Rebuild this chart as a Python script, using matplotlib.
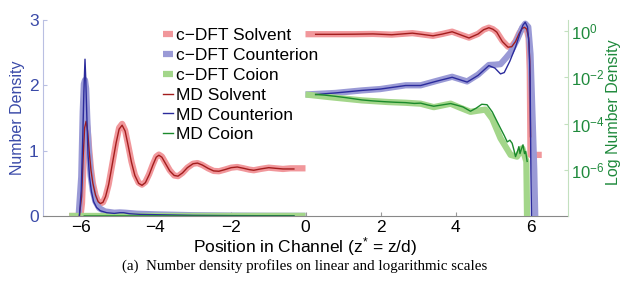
import matplotlib
matplotlib.use("Agg")
import matplotlib.pyplot as plt

plt.rcParams['font.family'] = ['Liberation Sans', 'DejaVu Sans']
plt.rcParams['mathtext.fontset'] = 'custom'
plt.rcParams['mathtext.rm'] = 'Liberation Sans'
plt.rcParams['mathtext.it'] = 'Liberation Sans:italic'
plt.rcParams['mathtext.default'] = 'regular'

# ---------------- data: left half (linear scale, z < 0) ----------------
z_dft_solv_L = [-6.3, -6.0, -5.96, -5.92, -5.88, -5.85, -5.81, -5.77, -5.72, -5.67, -5.6, -5.53, -5.47,
                -5.4, -5.33, -5.25, -5.15, -5.05, -4.97, -4.89, -4.81, -4.73, -4.64, -4.55, -4.45,
                -4.36, -4.27, -4.17, -4.07, -3.98, -3.91, -3.83, -3.73, -3.62, -3.5, -3.4, -3.28,
                -3.15, -3.0, -2.88, -2.75, -2.6, -2.45, -2.31, -2.15, -1.98, -1.82, -1.65, -1.5,
                -1.38, -1.2, -0.98, -0.8, -0.6, -0.4, -0.2, 0.0]
n_dft_solv_L = [0.0, 0.0, 0.2, 0.8, 1.3, 1.46, 1.33, 1.03, 0.72, 0.5, 0.32, 0.22, 0.19,
                0.21, 0.3, 0.48, 0.8, 1.13, 1.35, 1.41, 1.31, 1.09, 0.83, 0.63, 0.51,
                0.48, 0.52, 0.64, 0.79, 0.91, 0.94, 0.91, 0.81, 0.7, 0.62, 0.61, 0.66,
                0.74, 0.8, 0.81, 0.78, 0.73, 0.69, 0.685, 0.71, 0.74, 0.75, 0.73, 0.71,
                0.70, 0.72, 0.74, 0.73, 0.72, 0.73, 0.73, 0.73]
z_md_solv_L = [-6.03, -5.97, -5.93, -5.89, -5.85, -5.81, -5.77, -5.72, -5.67, -5.6, -5.53, -5.47,
               -5.4, -5.33, -5.25, -5.15, -5.05, -4.97, -4.89, -4.81, -4.73, -4.64, -4.55, -4.45,
               -4.36, -4.27, -4.17, -4.07, -3.98, -3.91, -3.83, -3.73, -3.62, -3.5, -3.4, -3.28,
               -3.15, -3.0, -2.88, -2.75, -2.6, -2.45, -2.31, -2.15, -1.98, -1.82, -1.65, -1.5,
               -1.38, -1.2, -0.98, -0.8, -0.6, -0.45, -0.31]
n_md_solv_L = [0.0, 0.3, 0.9, 1.35, 1.45, 1.3, 1.0, 0.7, 0.5, 0.32, 0.22, 0.19,
               0.21, 0.3, 0.48, 0.8, 1.12, 1.33, 1.39, 1.3, 1.08, 0.82, 0.62, 0.5,
               0.47, 0.51, 0.63, 0.78, 0.9, 0.93, 0.9, 0.8, 0.69, 0.62, 0.61, 0.66,
               0.74, 0.8, 0.81, 0.78, 0.73, 0.69, 0.685, 0.71, 0.74, 0.75, 0.73, 0.71,
               0.70, 0.72, 0.74, 0.73, 0.72, 0.72, 0.72]
z_dft_ci_L = [-6.05, -5.98, -5.94, -5.91, -5.88, -5.85, -5.82, -5.78, -5.73, -5.67, -5.6, -5.5,
              -5.35, -5.1, -4.95, -4.8, -4.5, -4.0, -3.0, -2.0, -1.0, 0.0]
n_dft_ci_L = [0.0, 0.6, 1.6, 2.02, 2.08, 1.95, 1.5, 1.0, 0.62, 0.38, 0.22, 0.12,
              0.07, 0.05, 0.055, 0.05, 0.035, 0.025, 0.012, 0.006, 0.003, 0.002]
z_md_ci_L = [-6.03, -5.98, -5.94, -5.91, -5.88, -5.86, -5.83, -5.8, -5.76, -5.71, -5.65, -5.57,
             -5.47, -5.3, -5.1, -4.95, -4.85, -4.7, -4.4, -4.0, -3.0, -2.0, -1.0, -0.31]
n_md_ci_L = [0.0, 0.4, 1.2, 1.9, 2.40, 2.1, 1.5, 0.95, 0.6, 0.38, 0.22, 0.13,
             0.08, 0.05, 0.04, 0.05, 0.05, 0.035, 0.025, 0.02, 0.01, 0.006, 0.004, 0.003]
z_dft_co_L = [-6.3, -5.0, -3.0, -1.0, 0.0]
n_dft_co_L = [0.0005, 0.001, 0.001, 0.0015, 0.0018]
z_md_co_L = [-5.9, -4.0, -2.0, -0.31]
n_md_co_L = [0.0005, 0.001, 0.0012, 0.0017]

# ---------------- data: right half (log scale, z > 0) ----------------
z_dft_solv_R = [0.0, 0.8, 1.3, 1.8, 2.3, 2.85, 3.1, 3.4, 3.65, 3.91, 4.15, 4.36, 4.6, 4.75,
                4.89, 5.0, 5.1, 5.25, 5.4, 5.5, 5.6, 5.7, 5.78, 5.84, 5.9, 5.95, 5.98, 6.0,
                6.3]
n_dft_solv_R = [0.73, 0.73, 0.73, 0.75, 0.70, 0.81, 0.72, 0.62, 0.75, 0.94, 0.68, 0.52, 0.75, 1.15,
                1.40, 1.2, 0.9, 0.38, 0.21, 0.22, 0.36, 0.8, 1.3, 1.46, 1.2, 0.5, 0.02, 4.4e-6,
                4.4e-6]
z_md_solv_R = [0.27, 0.8, 1.3, 1.8, 2.3, 2.85, 3.1, 3.4, 3.65, 3.91, 4.15, 4.36, 4.6, 4.75,
               4.89, 5.0, 5.1, 5.25, 5.4, 5.5, 5.6, 5.7, 5.78, 5.84, 5.9, 5.95, 5.98, 6.0]
n_md_solv_R = [0.72, 0.72, 0.73, 0.75, 0.69, 0.81, 0.72, 0.62, 0.74, 0.93, 0.67, 0.5, 0.74, 1.14,
               1.39, 1.19, 0.9, 0.35, 0.2, 0.21, 0.35, 0.8, 1.3, 1.45, 1.2, 0.5, 0.05, 2.7e-5]
z_dft_ci_R = [0.0, 0.8, 1.5, 2.0, 2.67, 3.07, 3.5, 3.91, 4.31, 4.6, 4.89, 5.05, 5.2, 5.35,
              5.47, 5.65, 5.78, 5.86, 5.94, 6.0, 6.06, 6.1, 6.13, 6.16]
n_dft_ci_R = [0.0018, 0.0021, 0.0027, 0.0031, 0.0045, 0.0045, 0.007, 0.0105, 0.0066, 0.013, 0.034, 0.035, 0.037, 0.07,
              0.12, 0.45, 1.4, 2.08, 1.5, 0.1, 1e-4, 1e-6, 5e-9, 5e-9]
z_md_ci_R = [0.27, 0.8, 1.5, 2.0, 2.67, 3.07, 3.5, 3.91, 4.31, 4.6, 4.89, 5.05, 5.2, 5.3,
             5.45, 5.6, 5.72, 5.8, 5.86, 5.92, 5.96, 5.99, 6.01, 6.03]
n_md_ci_R = [0.0018, 0.0021, 0.0027, 0.0031, 0.0044, 0.0044, 0.0068, 0.0100, 0.0062, 0.012, 0.032, 0.025, 0.014, 0.016,
             0.05, 0.2, 0.8, 1.8, 2.4, 1.5, 0.3, 0.01, 1e-6, 5e-9]
z_dft_co_R = [0.0, 0.62, 1.51, 2.2, 2.67, 3.07, 3.42, 3.87, 4.1, 4.4, 4.6, 4.8, 4.98, 5.2,
              5.47, 5.64, 5.78, 5.89, 5.91, 6.3]
n_dft_co_R = [0.0018, 0.0014, 1.0e-3, 8.5e-4, 7.9e-4, 7.2e-4, 5.1e-4, 7.2e-4, 5.0e-4, 3.2e-4, 3.6e-4, 4.0e-4, 1.6e-4, 2.3e-5,
              4.4e-6, 3.7e-6, 8.5e-6, 2.3e-6, 5e-9, 5e-9]
z_md_co_R = [0.27, 0.5, 0.8, 1.1, 1.5, 1.8, 2.1, 2.4, 2.67, 2.9, 3.07, 3.25, 3.42, 3.6,
             3.87, 4.05, 4.2, 4.4, 4.55, 4.7, 4.84, 4.98, 5.1, 5.2, 5.3, 5.38, 5.45, 5.51,
             5.56, 5.6, 5.65, 5.69, 5.72, 5.75, 5.8, 5.84, 5.87, 5.91]
n_md_co_R = [0.0018, 0.0017, 0.0015, 0.0013, 1.05e-3, 9.5e-4, 8.8e-4, 8.3e-4, 8.0e-4, 7.4e-4, 7.6e-4, 6.4e-4, 5.6e-4, 6.2e-4,
             7.3e-4, 6.1e-4, 5.2e-4, 3.4e-4, 4.6e-4, 6.8e-4, 6.5e-4, 3.2e-4, 1.3e-4, 6.2e-5, 3.0e-5, 1.6e-5, 1.9e-5, 1.4e-5,
             7e-6, 3.7e-6, 6e-6, 1.0e-5, 5e-6, 7.2e-6, 1.2e-5, 5e-6, 6.2e-6, 2.3e-6]

labels = ['c\u2212DFT Solvent', 'c\u2212DFT Counterion', 'c\u2212DFT Coion',
          'MD Solvent', 'MD Counterion', 'MD Coion']
x_ticks = [-6, -4, -2, 0, 2, 4, 6]
lin_ticks = [0, 1, 2, 3]
log_ticks = [1e-6, 1e-4, 1e-2, 1e0]
log_ticklabels = ['$10^{-6}$', '$10^{-4}$', '$10^{-2}$', '$10^{0}$']

# ---------------- styles ----------------
c_dft = ['#f1979b', '#9a9ad6', '#a3d68a']
c_md = ['#a31d1d', '#2b2b9c', '#1b8a2c']
blue_lab = '#3a4aa8'
green_lab = '#1f8a3c'
lw_thick = 4.5
lw_thin = 1.0

fig = plt.figure(figsize=(6.21, 2.81), dpi=100)
ax1 = fig.add_axes([43/621, 1-216/281, 525/621, 196/281])
ax2 = ax1.twinx()

left_dft = [(z_dft_solv_L, n_dft_solv_L), (z_dft_ci_L, n_dft_ci_L), (z_dft_co_L, n_dft_co_L)]
left_md = [(z_md_solv_L, n_md_solv_L), (z_md_ci_L, n_md_ci_L), (z_md_co_L, n_md_co_L)]
right_dft = [(z_dft_solv_R, n_dft_solv_R), (z_dft_ci_R, n_dft_ci_R), (z_dft_co_R, n_dft_co_R)]
right_md = [(z_md_solv_R, n_md_solv_R), (z_md_ci_R, n_md_ci_R), (z_md_co_R, n_md_co_R)]

handles = []
for (z, n), c in zip(left_dft, c_dft):
    h, = ax1.plot(z, n, color=c, lw=lw_thick, solid_capstyle='butt')
    handles.append(h)
for (z, n), c in zip(left_md, c_md):
    h, = ax1.plot(z, n, color=c, lw=lw_thin)
    handles.append(h)
for (z, n), c in zip(right_dft, c_dft):
    ax2.plot(z, n, color=c, lw=lw_thick, solid_capstyle='butt')
for (z, n), c in zip(right_md, c_md):
    ax2.plot(z, n, color=c, lw=lw_thin)

ax1.set_xlim(-7, 7)
ax1.set_ylim(0, 3)
ax2.set_yscale('log')
ax2.set_ylim(1e-8, 3)
ax1.set_xticks(x_ticks)
ax1.set_yticks(lin_ticks)
ax2.set_yticks(log_ticks)
ax2.set_yticklabels(log_ticklabels)
ax2.yaxis.set_minor_locator(matplotlib.ticker.NullLocator())

fs = 12.5
ax1.tick_params(axis='x', direction='in', length=3, labelsize=fs, colors='#999999', labelcolor='black', pad=3)
ax1.tick_params(axis='y', direction='in', length=3, labelsize=fs, colors='#b9bfe2', labelcolor=blue_lab, pad=3)
ax2.tick_params(axis='y', which='both', direction='in', length=3, labelsize=12, colors='#c3e0bf', labelcolor=green_lab, pad=2)

for ax in (ax1, ax2):
    ax.spines['top'].set_visible(False)
    ax.patch.set_visible(False)
ax1.spines['left'].set_color('#b9bfe2')
ax1.spines['right'].set_visible(False)
ax2.spines['left'].set_visible(False)
ax2.spines['right'].set_color('#c3e0bf')
ax1.spines['bottom'].set_color('#888888')
ax2.spines['bottom'].set_visible(False)

ax1.set_xlabel('Position in Channel (z$^{*}$ = z/d)', fontsize=fs)
ax1.xaxis.set_label_coords(0.5, -0.10)
ax1.set_ylabel('Number Density', fontsize=11.5, color=blue_lab)
ax1.yaxis.set_label_coords(-0.035, 0.5)
ax2.set_ylabel('Log Number Density', fontsize=11.5, color=green_lab)
ax2.yaxis.set_label_coords(1.072, 0.53)

ax2.legend(handles, labels, loc='upper left', bbox_to_anchor=(163/621, 1-28/281),
           bbox_transform=fig.transFigure, frameon=False, fontsize=fs,
           handlelength=0.6, handletextpad=0.15, labelspacing=0.27, borderpad=0,
           borderaxespad=0)

fig.text(305/621, 1-266/281, '(a)  Number density profiles on linear and logarithmic scales',
         ha='center', va='center', fontsize=10.8, family=['Liberation Serif', 'DejaVu Serif'])

fig.savefig('out.png', dpi=100)
